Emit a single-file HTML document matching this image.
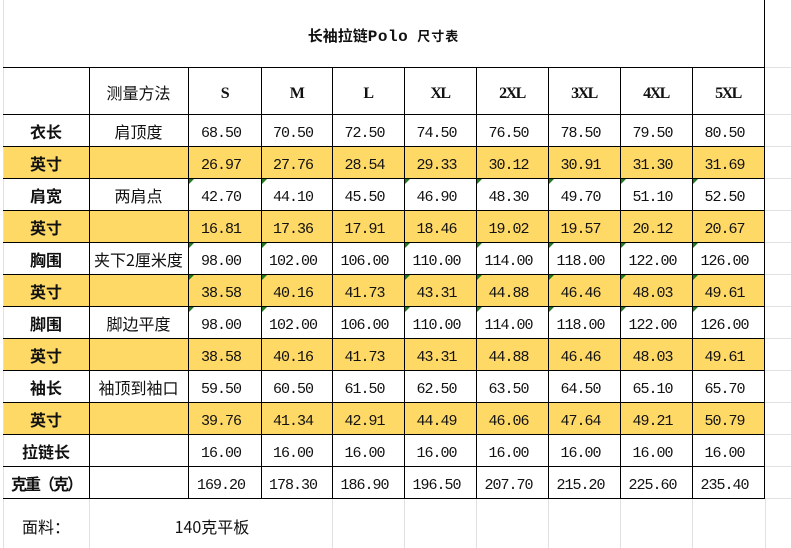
<!DOCTYPE html>
<html><head><meta charset="utf-8">
<style>
*{margin:0;padding:0;box-sizing:border-box}
html,body{width:791px;height:548px;background:#fff;overflow:hidden}
#p{position:relative;width:791px;height:548px;background:#fff;font-family:"Liberation Sans","Noto Sans CJK SC",sans-serif;color:#111}
.row{position:absolute;left:3px;width:761px;height:32px;display:flex}
.row>div{height:100%;text-align:center;white-space:nowrap;overflow:visible;display:flex;align-items:center;justify-content:center;padding-top:2px}
.y{background:#FFD966}
.c0{width:86px}.c1{width:99px}.c2{width:73px}.c3{width:71px}.cx{width:72px}
.lab{font-family:"Noto Sans CJK SC",sans-serif;font-weight:700;font-size:16px;line-height:18px}
.met{font-family:"Noto Sans CJK SC",sans-serif;font-weight:400;font-size:16px;line-height:18px}
.row>div.n{font-family:"Liberation Mono",monospace;font-size:15px;letter-spacing:-1px;padding-right:7px;line-height:16px;padding-top:8px}
.row>div.h{font-family:"Liberation Serif",serif;font-weight:700;font-size:16px;letter-spacing:-1.5px;padding-top:7px}
.hl{position:absolute;height:1px;background:#000}
.vl{position:absolute;width:1px;background:#000}
.gh{position:absolute;height:1px;background:#e1e1e1}
.gv{position:absolute;width:1px;background:#e1e1e1}
.tri{position:absolute;width:0;height:0;border-top:5px solid #1f7a1f;border-right:5px solid transparent}
</style></head><body><div id="p">

<!-- title -->
<div style="position:absolute;left:3px;top:0;width:761px;height:67px;display:flex;align-items:center;justify-content:center;padding-top:3px;font-weight:700;white-space:nowrap">
<span style="font-family:'Noto Sans CJK SC',sans-serif;font-size:15px">长袖拉链<span style="font-family:'Liberation Mono',monospace;font-size:16px;letter-spacing:0.5px">Polo</span><span style="font-size:13px;margin-left:9px;letter-spacing:1px">尺寸表</span></span>
</div>

<!-- header row -->
<div class="row" style="top:67px;height:47px">
<div class="c0"></div><div class="c1 met">测量方法</div>
<div class="c2 h">S</div><div class="c3 h">M</div><div class="cx h">L</div><div class="cx h">XL</div><div class="cx h">2XL</div><div class="cx h">3XL</div><div class="cx h">4XL</div><div class="cx h">5XL</div>
</div>

<div class="row" style="top:114px"><div class="c0 lab">衣长</div><div class="c1 met">肩顶度</div><div class="c2 n">68.50</div><div class="c3 n">70.50</div><div class="cx n">72.50</div><div class="cx n">74.50</div><div class="cx n">76.50</div><div class="cx n">78.50</div><div class="cx n">79.50</div><div class="cx n">80.50</div></div>
<div class="row y" style="top:146px"><div class="c0 lab">英寸</div><div class="c1"></div><div class="c2 n">26.97</div><div class="c3 n">27.76</div><div class="cx n">28.54</div><div class="cx n">29.33</div><div class="cx n">30.12</div><div class="cx n">30.91</div><div class="cx n">31.30</div><div class="cx n">31.69</div></div>
<div class="row" style="top:178px"><div class="c0 lab">肩宽</div><div class="c1 met">两肩点</div><div class="c2 n">42.70</div><div class="c3 n">44.10</div><div class="cx n">45.50</div><div class="cx n">46.90</div><div class="cx n">48.30</div><div class="cx n">49.70</div><div class="cx n">51.10</div><div class="cx n">52.50</div></div>
<div class="row y" style="top:210px"><div class="c0 lab">英寸</div><div class="c1"></div><div class="c2 n">16.81</div><div class="c3 n">17.36</div><div class="cx n">17.91</div><div class="cx n">18.46</div><div class="cx n">19.02</div><div class="cx n">19.57</div><div class="cx n">20.12</div><div class="cx n">20.67</div></div>
<div class="row" style="top:242px"><div class="c0 lab">胸围</div><div class="c1 met">夹下2厘米度</div><div class="c2 n">98.00</div><div class="c3 n">102.00</div><div class="cx n">106.00</div><div class="cx n">110.00</div><div class="cx n">114.00</div><div class="cx n">118.00</div><div class="cx n">122.00</div><div class="cx n">126.00</div></div>
<div class="row y" style="top:274px"><div class="c0 lab">英寸</div><div class="c1"></div><div class="c2 n">38.58</div><div class="c3 n">40.16</div><div class="cx n">41.73</div><div class="cx n">43.31</div><div class="cx n">44.88</div><div class="cx n">46.46</div><div class="cx n">48.03</div><div class="cx n">49.61</div></div>
<div class="row" style="top:306px"><div class="c0 lab">脚围</div><div class="c1 met">脚边平度</div><div class="c2 n">98.00</div><div class="c3 n">102.00</div><div class="cx n">106.00</div><div class="cx n">110.00</div><div class="cx n">114.00</div><div class="cx n">118.00</div><div class="cx n">122.00</div><div class="cx n">126.00</div></div>
<div class="row y" style="top:338px"><div class="c0 lab">英寸</div><div class="c1"></div><div class="c2 n">38.58</div><div class="c3 n">40.16</div><div class="cx n">41.73</div><div class="cx n">43.31</div><div class="cx n">44.88</div><div class="cx n">46.46</div><div class="cx n">48.03</div><div class="cx n">49.61</div></div>
<div class="row" style="top:370px"><div class="c0 lab">袖长</div><div class="c1 met">袖顶到袖口</div><div class="c2 n">59.50</div><div class="c3 n">60.50</div><div class="cx n">61.50</div><div class="cx n">62.50</div><div class="cx n">63.50</div><div class="cx n">64.50</div><div class="cx n">65.10</div><div class="cx n">65.70</div></div>
<div class="row y" style="top:402px"><div class="c0 lab">英寸</div><div class="c1"></div><div class="c2 n">39.76</div><div class="c3 n">41.34</div><div class="cx n">42.91</div><div class="cx n">44.49</div><div class="cx n">46.06</div><div class="cx n">47.64</div><div class="cx n">49.21</div><div class="cx n">50.79</div></div>
<div class="row" style="top:434px"><div class="c0 lab">拉链长</div><div class="c1"></div><div class="c2 n">16.00</div><div class="c3 n">16.00</div><div class="cx n">16.00</div><div class="cx n">16.00</div><div class="cx n">16.00</div><div class="cx n">16.00</div><div class="cx n">16.00</div><div class="cx n">16.00</div></div>
<div class="row" style="top:466px"><div class="c0 lab" style="letter-spacing:-2px">克重（克）</div><div class="c1"></div><div class="c2 n">169.20</div><div class="c3 n">178.30</div><div class="cx n">186.90</div><div class="cx n">196.50</div><div class="cx n">207.70</div><div class="cx n">215.20</div><div class="cx n">225.60</div><div class="cx n">235.40</div></div>

<!-- bottom row -->
<div style="position:absolute;left:3px;top:499px;width:86px;height:49px;display:flex;align-items:center;justify-content:center;padding-top:4px;font-family:'Noto Sans CJK SC',sans-serif;font-size:16px">面料：</div>
<div style="position:absolute;left:89px;top:499px;width:243px;height:49px;display:flex;align-items:center;justify-content:center;padding-top:4px;padding-left:3px;font-family:'Noto Sans CJK SC',sans-serif;font-size:16px"><span>140克平板</span></div>

<!-- gray gridlines -->
<div class="gv" style="left:3px;top:0;height:548px"></div>
<div class="gv" style="left:89px;top:499px;height:49px"></div>
<div class="gv" style="left:332px;top:499px;height:49px"></div>
<div class="gv" style="left:404px;top:499px;height:49px"></div>
<div class="gv" style="left:476px;top:499px;height:49px"></div>
<div class="gv" style="left:548px;top:499px;height:49px"></div>
<div class="gv" style="left:620px;top:499px;height:49px"></div>
<div class="gv" style="left:692px;top:499px;height:49px"></div>
<div class="gv" style="left:765px;top:499px;height:49px"></div>
<div class="gh" style="left:765px;top:67px;width:26px"></div>
<div class="gh" style="left:765px;top:114px;width:26px"></div>
<div class="gh" style="left:765px;top:146px;width:26px"></div>
<div class="gh" style="left:765px;top:178px;width:26px"></div>
<div class="gh" style="left:765px;top:210px;width:26px"></div>
<div class="gh" style="left:765px;top:242px;width:26px"></div>
<div class="gh" style="left:765px;top:274px;width:26px"></div>
<div class="gh" style="left:765px;top:306px;width:26px"></div>
<div class="gh" style="left:765px;top:338px;width:26px"></div>
<div class="gh" style="left:765px;top:370px;width:26px"></div>
<div class="gh" style="left:765px;top:402px;width:26px"></div>
<div class="gh" style="left:765px;top:434px;width:26px"></div>
<div class="gh" style="left:765px;top:466px;width:26px"></div>
<div class="gh" style="left:765px;top:498px;width:26px"></div>

<!-- black horizontal lines -->
<div class="hl" style="left:3px;width:762px;top:67px"></div>
<div class="hl" style="left:3px;width:762px;top:114px"></div>
<div class="hl" style="left:3px;width:762px;top:146px"></div>
<div class="hl" style="left:3px;width:762px;top:178px"></div>
<div class="hl" style="left:3px;width:762px;top:210px"></div>
<div class="hl" style="left:3px;width:762px;top:242px"></div>
<div class="hl" style="left:3px;width:762px;top:274px"></div>
<div class="hl" style="left:3px;width:762px;top:306px"></div>
<div class="hl" style="left:3px;width:762px;top:338px"></div>
<div class="hl" style="left:3px;width:762px;top:370px"></div>
<div class="hl" style="left:3px;width:762px;top:402px"></div>
<div class="hl" style="left:3px;width:762px;top:434px"></div>
<div class="hl" style="left:3px;width:762px;top:466px"></div>
<div class="hl" style="left:3px;width:762px;top:498px"></div>

<!-- black vertical lines -->
<div class="vl" style="left:89px;top:67px;height:432px"></div>
<div class="vl" style="left:188px;top:67px;height:432px"></div>
<div class="vl" style="left:261px;top:67px;height:432px"></div>
<div class="vl" style="left:332px;top:67px;height:432px"></div>
<div class="vl" style="left:404px;top:67px;height:432px"></div>
<div class="vl" style="left:476px;top:67px;height:432px"></div>
<div class="vl" style="left:548px;top:67px;height:432px"></div>
<div class="vl" style="left:620px;top:67px;height:432px"></div>
<div class="vl" style="left:692px;top:67px;height:432px"></div>
<div class="vl" style="left:764px;top:0;height:499px"></div>

<!-- green triangles -->
<div class="tri" style="left:189px;top:179px"></div><div class="tri" style="left:262px;top:179px"></div><div class="tri" style="left:405px;top:179px"></div><div class="tri" style="left:477px;top:179px"></div><div class="tri" style="left:549px;top:179px"></div><div class="tri" style="left:621px;top:179px"></div><div class="tri" style="left:693px;top:179px"></div>
<div class="tri" style="left:189px;top:243px"></div><div class="tri" style="left:262px;top:243px"></div><div class="tri" style="left:405px;top:243px"></div><div class="tri" style="left:477px;top:243px"></div><div class="tri" style="left:549px;top:243px"></div><div class="tri" style="left:621px;top:243px"></div><div class="tri" style="left:693px;top:243px"></div>
<div class="tri" style="left:189px;top:275px"></div><div class="tri" style="left:262px;top:275px"></div><div class="tri" style="left:405px;top:275px"></div><div class="tri" style="left:477px;top:275px"></div><div class="tri" style="left:549px;top:275px"></div><div class="tri" style="left:621px;top:275px"></div><div class="tri" style="left:693px;top:275px"></div>
<div class="tri" style="left:189px;top:307px"></div><div class="tri" style="left:262px;top:307px"></div><div class="tri" style="left:405px;top:307px"></div><div class="tri" style="left:477px;top:307px"></div><div class="tri" style="left:549px;top:307px"></div><div class="tri" style="left:621px;top:307px"></div><div class="tri" style="left:693px;top:307px"></div>

</div></body></html>
